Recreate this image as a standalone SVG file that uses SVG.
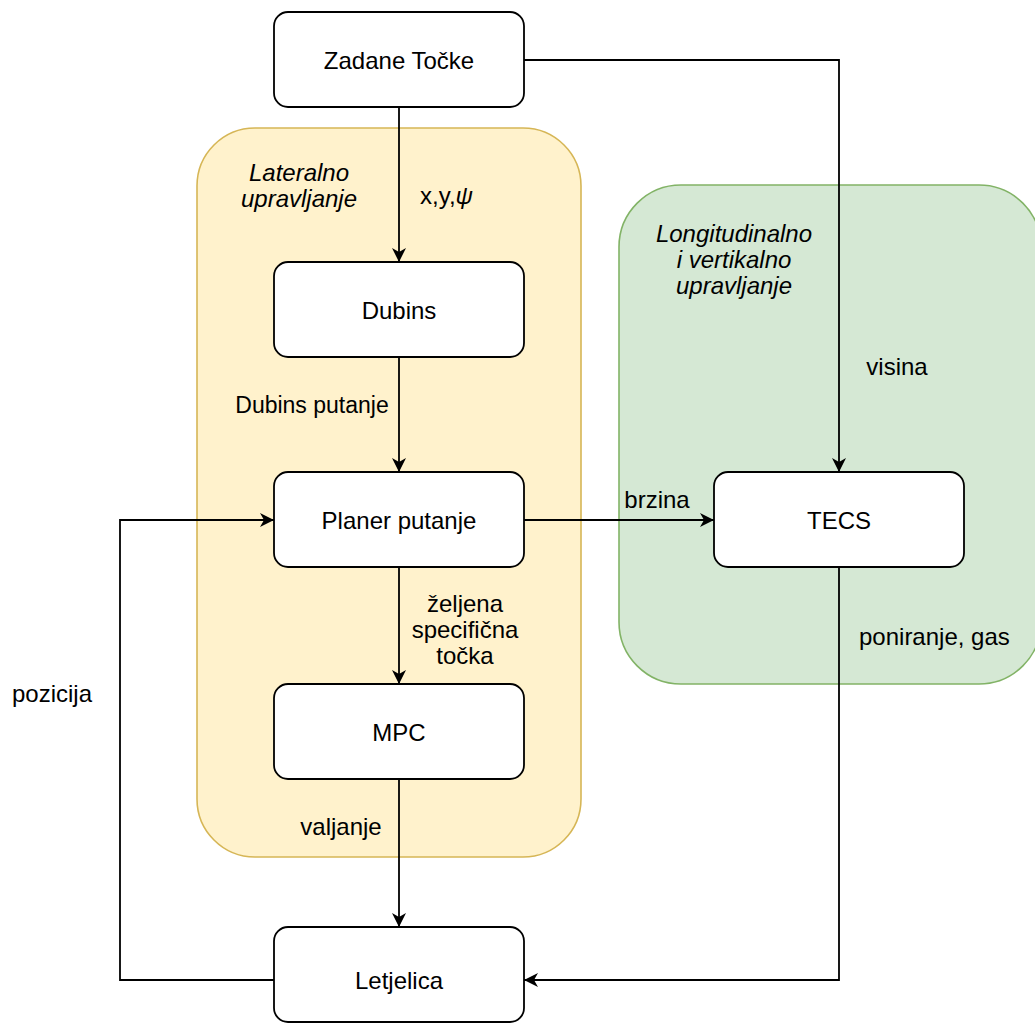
<svg xmlns="http://www.w3.org/2000/svg" width="1035" height="1025" viewBox="0 0 1035 1025">
<style>
  .node rect { fill: #ffffff; stroke: #000000; stroke-width: 1.8; }
  .t { font-family: "Liberation Sans", Arial, sans-serif; font-size: 24px; fill: #000000; }
  .c { text-anchor: middle; }
  .i { font-style: italic; }
  .edge { fill: none; stroke: #000000; stroke-width: 1.8; }
</style>
<defs>
  <marker id="arrow" markerUnits="userSpaceOnUse" markerWidth="16" markerHeight="16" refX="14" refY="8" orient="auto">
    <path d="M0,1 L14,8 L0,15 L4,8 Z" fill="#000000"/>
  </marker>
</defs>
<rect width="1035" height="1025" fill="#ffffff"/>

<g id="lateral-group">
  <rect x="197" y="128" width="384" height="729" rx="58" ry="58" fill="#fff2cc" stroke="#d6b656" stroke-width="1.6"/>
  <text class="t i c" x="299" y="181">Lateralno</text>
  <text class="t i c" x="299" y="207">upravljanje</text>
</g>
<g id="longitudinal-group">
  <rect x="619" y="185" width="422" height="499" rx="62" ry="62" fill="#d5e8d4" stroke="#82b366" stroke-width="1.6"/>
  <text class="t i c" x="734" y="242">Longitudinalno</text>
  <text class="t i c" x="734" y="268">i vertikalno</text>
  <text class="t i c" x="734" y="294">upravljanje</text>
</g>

<g id="connectors">
  <path class="edge" d="M399,107 V262" marker-end="url(#arrow)"/>
  <path class="edge" d="M399,357 V472" marker-end="url(#arrow)"/>
  <path class="edge" d="M399,567 V684" marker-end="url(#arrow)"/>
  <path class="edge" d="M399,779 V927" marker-end="url(#arrow)"/>
  <path class="edge" d="M524,60 H839 V472" marker-end="url(#arrow)"/>
  <path class="edge" d="M524,520 H714" marker-end="url(#arrow)"/>
  <path class="edge" d="M839,567 V980 H524" marker-end="url(#arrow)"/>
  <path class="edge" d="M274,980 H120 V520 H274" marker-end="url(#arrow)"/>
</g>

<g id="edge-labels">
  <text class="t" x="420" y="204">x,y,<tspan class="i">ψ</tspan></text>
  <text class="t c" x="312" y="413" style="font-size:23px">Dubins putanje</text>
  <text class="t c" x="657" y="508">brzina</text>
  <text class="t c" x="897" y="375">visina</text>
  <text class="t c" x="465" y="612">željena</text>
  <text class="t c" x="465" y="638">specifična</text>
  <text class="t c" x="465" y="664">točka</text>
  <text class="t" x="12" y="702">pozicija</text>
  <text class="t c" x="341" y="835">valjanje</text>
  <text class="t" x="859" y="645">poniranje, gas</text>
</g>

<g id="node-zadane" class="node">
  <rect x="274" y="12" width="250" height="95" rx="14" ry="14"/>
  <text class="t c" x="399" y="69">Zadane Točke</text>
</g>
<g id="node-dubins" class="node">
  <rect x="274" y="262" width="250" height="95" rx="14" ry="14"/>
  <text class="t c" x="399" y="319">Dubins</text>
</g>
<g id="node-planer" class="node">
  <rect x="274" y="472" width="250" height="95" rx="14" ry="14"/>
  <text class="t c" x="399" y="529">Planer putanje</text>
</g>
<g id="node-tecs" class="node">
  <rect x="714" y="472" width="250" height="95" rx="14" ry="14"/>
  <text class="t c" x="839" y="529">TECS</text>
</g>
<g id="node-mpc" class="node">
  <rect x="274" y="684" width="250" height="95" rx="14" ry="14"/>
  <text class="t c" x="399" y="741">MPC</text>
</g>
<g id="node-letjelica" class="node">
  <rect x="274" y="927" width="250" height="95" rx="14" ry="14"/>
  <text class="t c" x="399" y="989">Letjelica</text>
</g>
</svg>
